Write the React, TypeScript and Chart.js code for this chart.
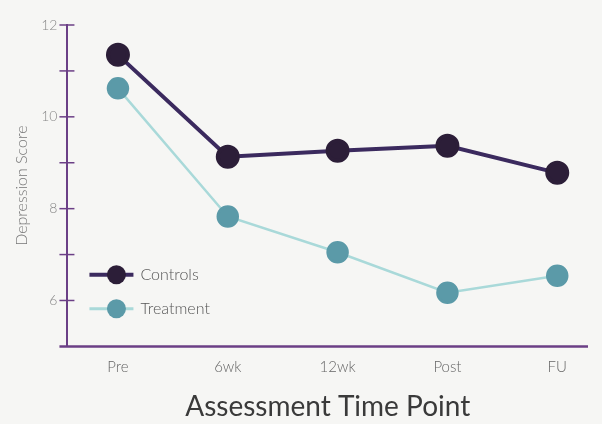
import React, { useEffect, useRef } from "react";
import { Chart, registerables } from "chart.js";

Chart.register(...registerables);

const categories = ["Pre", "6wk", "12wk", "Post", "FU"];
const controls = [11.35, 9.13, 9.26, 9.37, 8.78];
const treatment = [10.62, 7.83, 7.05, 6.17, 6.54];
const yMinorTicks = [6, 7, 8, 9, 10, 11, 12];
const yLabelTicks = [6, 8, 10, 12];
const legendLabels = ["Controls", "Treatment"];

const AXIS = "#6b3f86";
const CTRL_LINE = "#3b2a5e";
const CTRL_PT = "#2c1e38";
const TRT_LINE = "#a9d9d9";
const TRT_PT = "#5b9aa8";
const FONT = "Lato, 'Open Sans', sans-serif";

const decorPlugin = {
  id: "decor",
  afterDraw(chart: any) {
    const ctx = chart.ctx;
    const y = chart.scales.y;
    const area = chart.chartArea;
    ctx.save();
    ctx.strokeStyle = AXIS;
    ctx.lineWidth = 1.5;
    for (const v of yMinorTicks) {
      const py = y.getPixelForValue(v);
      ctx.beginPath();
      ctx.moveTo(area.left - 8, py);
      ctx.lineTo(area.left + 7, py);
      ctx.stroke();
    }
    ctx.lineWidth = 2.5;
    ctx.beginPath();
    ctx.moveTo(area.left - 8, area.bottom);
    ctx.lineTo(area.right, area.bottom);
    ctx.stroke();
    const items = [
      { label: legendLabels[0], line: CTRL_LINE, pt: CTRL_PT, lw: 4, r: 9.5 },
      { label: legendLabels[1], line: TRT_LINE, pt: TRT_PT, lw: 3, r: 9.5 },
    ];
    const lx = area.left + 49;
    const startY = y.getPixelForValue(6.56);
    items.forEach((it, i) => {
      const cy = startY + i * 34;
      ctx.strokeStyle = it.line;
      ctx.lineWidth = it.lw;
      ctx.beginPath();
      ctx.moveTo(lx - 27, cy);
      ctx.lineTo(lx + 17, cy);
      ctx.stroke();
      ctx.fillStyle = it.pt;
      ctx.beginPath();
      ctx.arc(lx, cy, it.r, 0, Math.PI * 2);
      ctx.fill();
      ctx.fillStyle = "#555";
      ctx.font = `300 16px ${FONT}`;
      ctx.textBaseline = "middle";
      ctx.textAlign = "left";
      ctx.fillText(it.label, lx + 24, cy);
    });
    ctx.restore();
  },
};

export default function App() {
  const ref = useRef<HTMLCanvasElement>(null);
  useEffect(() => {
    document.body.style.margin = "0";
    document.body.style.background = "#f6f6f4";
    const chart = new Chart(ref.current!, {
      type: "line",
      data: {
        datasets: [
          {
            label: "Controls",
            data: controls.map((v, i) => ({ x: i, y: v })),
            borderColor: CTRL_LINE,
            backgroundColor: CTRL_PT,
            pointBackgroundColor: CTRL_PT,
            pointBorderColor: CTRL_PT,
            borderWidth: 4,
            pointRadius: 10,
            tension: 0,
          },
          {
            label: "Treatment",
            data: treatment.map((v, i) => ({ x: i, y: v })),
            borderColor: TRT_LINE,
            backgroundColor: TRT_PT,
            pointBackgroundColor: TRT_PT,
            pointBorderColor: TRT_PT,
            borderWidth: 2.5,
            pointRadius: 10,
            tension: 0,
          },
        ],
      },
      options: {
        animation: false,
        responsive: false,
        layout: { padding: { left: 12, right: 0, top: 25, bottom: 0 } },
        plugins: { legend: { display: false }, tooltip: { enabled: false } },
        scales: {
          x: {
            type: "linear",
            min: -0.46,
            max: 4.28,
            afterBuildTicks: (s: any) => {
              s.ticks = categories.map((_, i) => ({ value: i }));
            },
            ticks: {
              callback: (v: any) => categories[v] ?? "",
              color: "#666",
              font: { family: FONT, size: 15, weight: "300" as any },
              padding: 12,
              maxRotation: 0,
            },
            grid: { display: false, drawTicks: false },
            border: { display: false },
            title: {
              display: true,
              text: "Assessment Time Point",
              color: "#3a3a3a",
              font: { family: FONT, size: 28 },
              padding: { top: 2, bottom: 0 },
            },
          },
          y: {
            min: 5,
            max: 12,
            afterBuildTicks: (s: any) => {
              s.ticks = yLabelTicks.map((v) => ({ value: v }));
            },
            ticks: {
              color: "#888",
              font: { family: FONT, size: 14, weight: "300" as any },
              padding: 10,
            },
            grid: { display: false, drawTicks: false },
            border: { display: true, color: AXIS, width: 2 },
            title: {
              display: true,
              text: "Depression Score",
              color: "#777",
              font: { family: FONT, size: 16, weight: "300" as any },
              padding: { top: 0, bottom: 0 },
            },
          },
        },
      },
      plugins: [decorPlugin],
    });
    return () => chart.destroy();
  }, []);
  return (
    <div style={{ width: 602, height: 424, background: "#f6f6f4" }}>
      <canvas ref={ref} width={602} height={424} />
    </div>
  );
}
